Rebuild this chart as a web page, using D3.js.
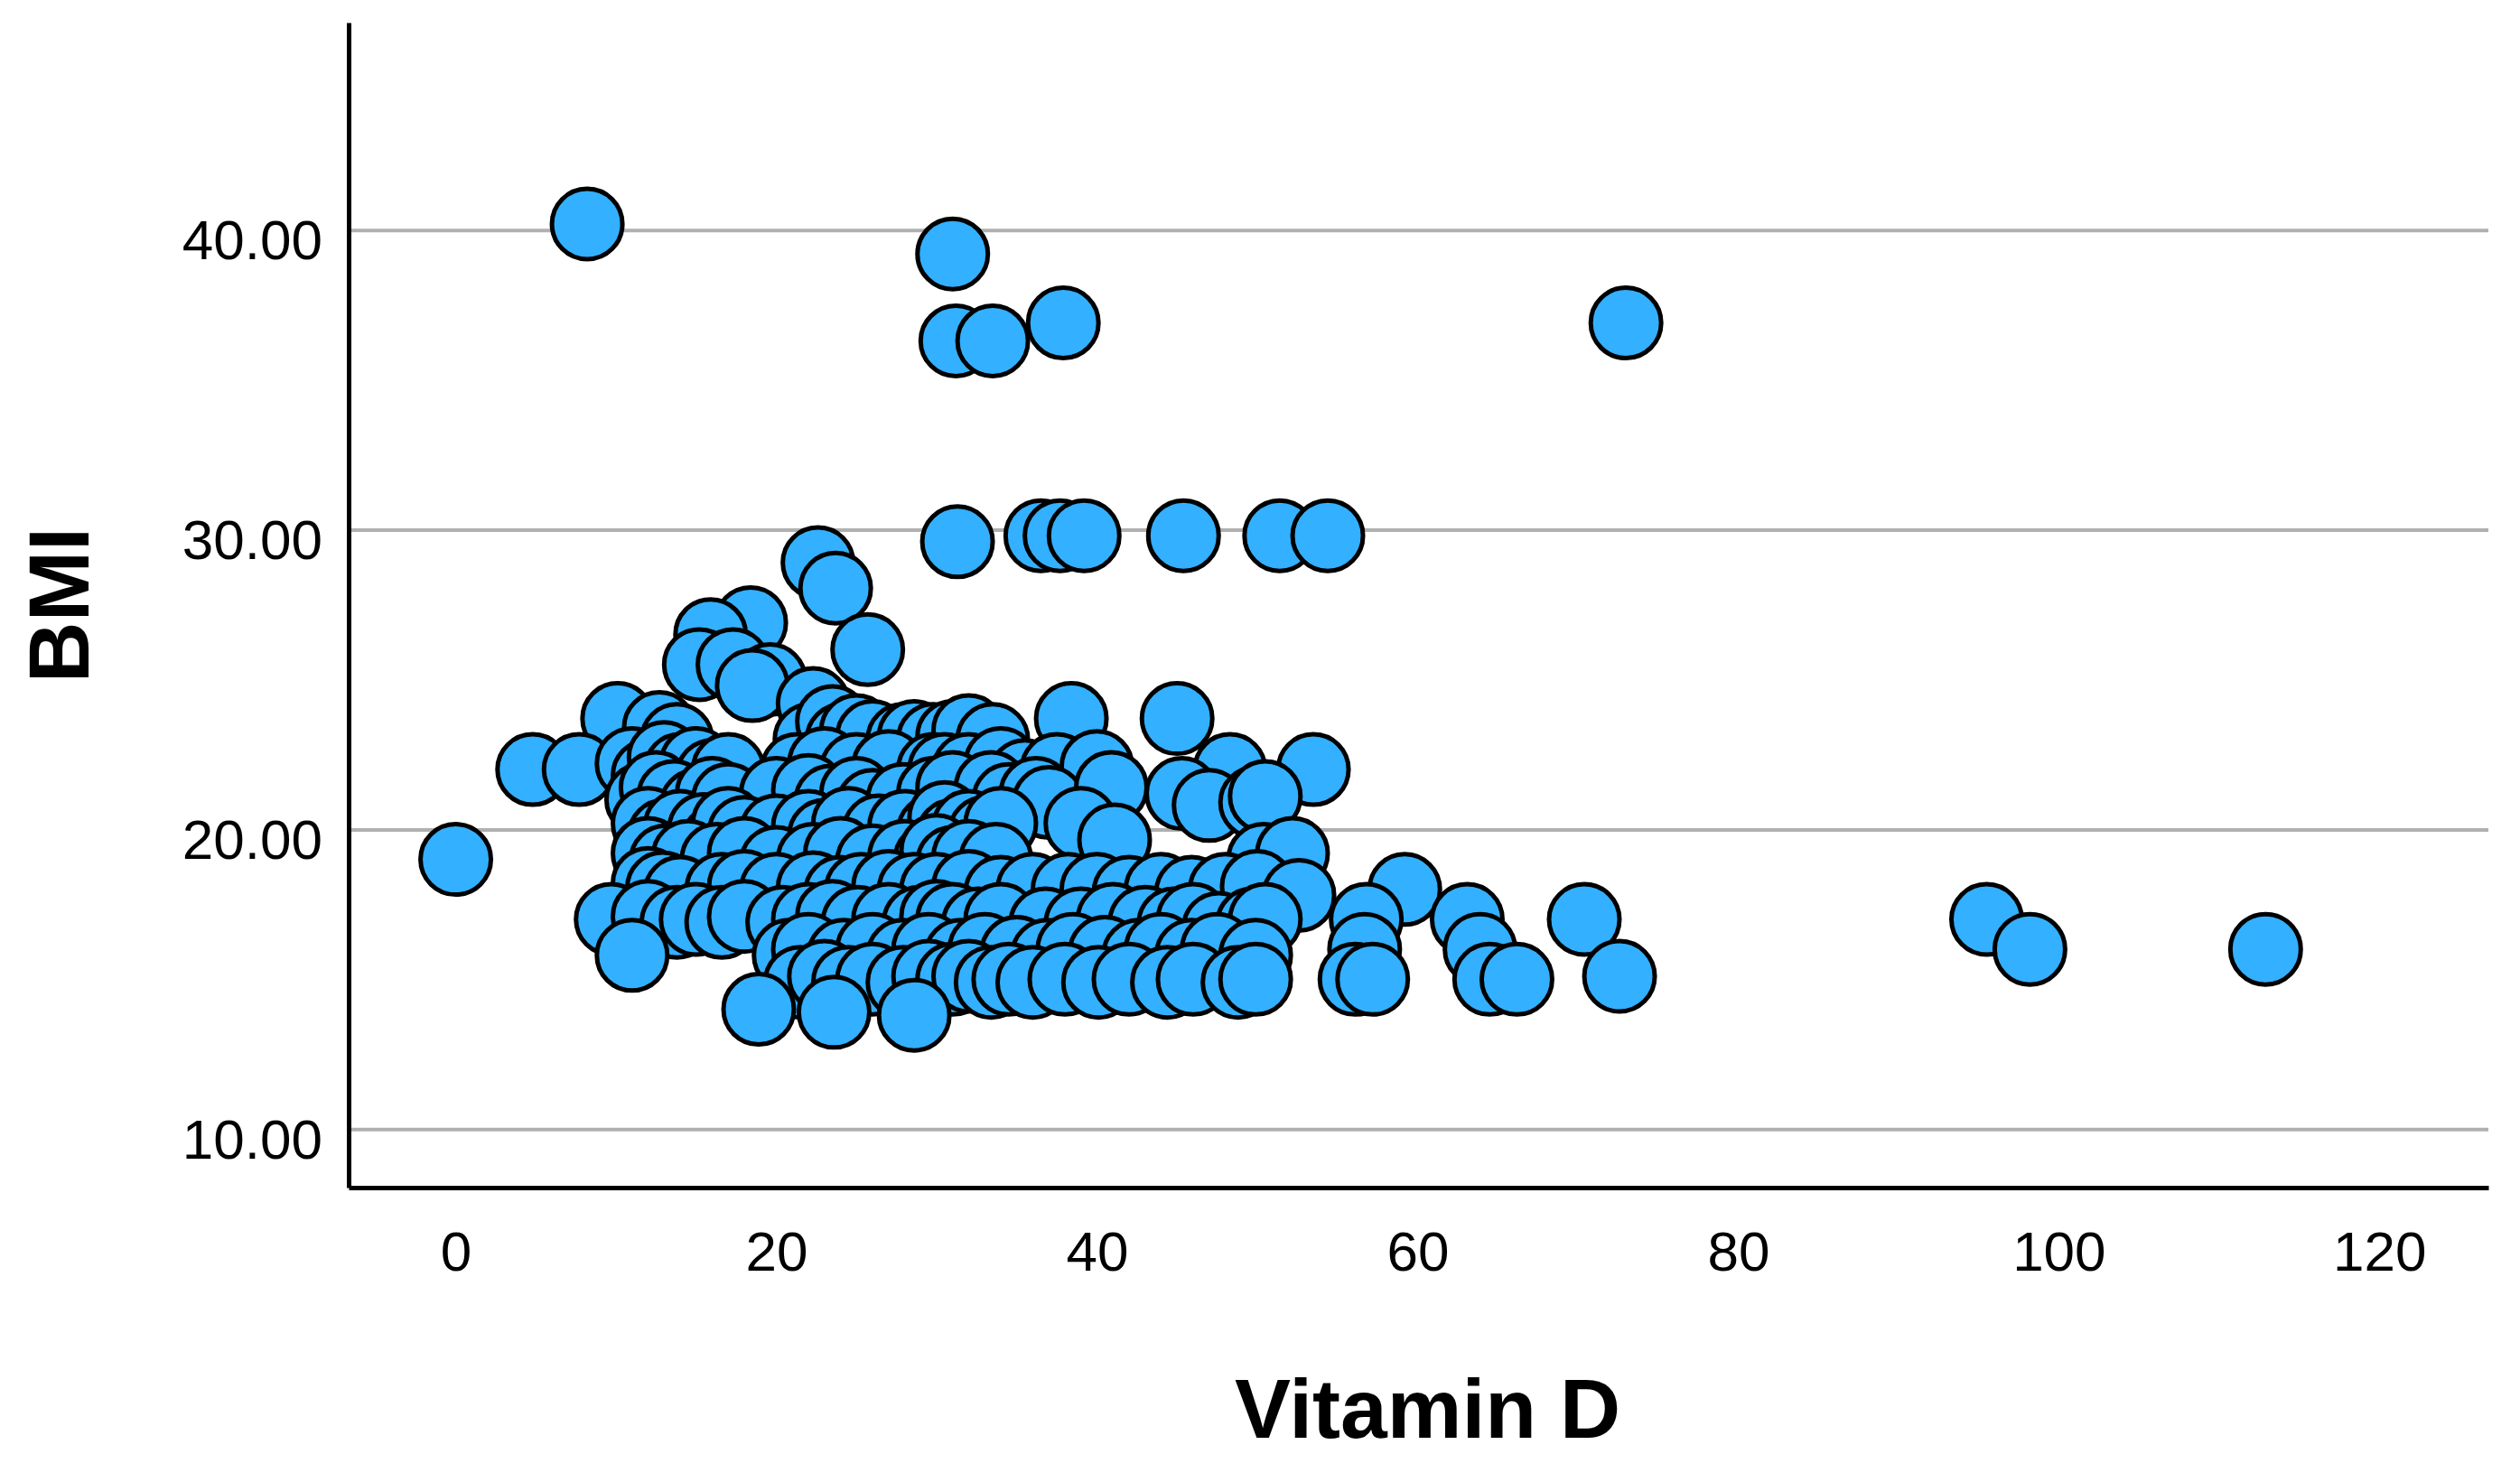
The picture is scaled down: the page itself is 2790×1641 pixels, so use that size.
<!DOCTYPE html>
<html>
<head>
<meta charset="utf-8">
<script src="https://cdn.jsdelivr.net/npm/d3@7"></script>
<style>
  body { margin: 0; background: #fff; }
  text { font-family: Arial, "Liberation Sans", sans-serif; }
</style>
</head>
<body>
<div id="chart"></div>
<script>
// values, one row of the scatter per line (roughly by BMI band)
const vitaminD = [
    8.2, 31, 31.2, 33.5, 37.9, 73,
    31.3, 36.5, 37.7, 39.2, 45.4, 51.4, 54.4,
    22.6, 23.7, 25.7, 18.4, 15.9, 15.2, 17.3, 19.6, 18.5, 22.3,
    10.1, 12.7, 13.8, 22.1, 23.5, 24.1, 25, 26, 27.9, 28.6, 29.8, 31, 32, 33.5, 38.4, 45,
    4.8, 7.7, 11, 12, 13, 14, 15, 16, 17, 21.3, 23, 25, 27, 29.8, 30.5, 32, 34, 35.5, 37.5, 40, 48.3, 53.5,
    11.6, 12.5, 13.6, 15, 16, 17, 20, 22, 23.4, 25, 26, 27.9, 29.8, 31, 33.4, 34.5, 36.2, 37, 40.9, 45.3, 47, 49.9, 50.5,
    0, 12, 13, 14, 15.5, 16.3, 17, 18, 20, 22, 23, 24.5, 26.4, 28, 29.8, 30.5, 31, 32, 33, 34, 39, 41.1,
    12, 13.1, 14.5, 16.3, 18, 20, 22.3, 24, 26, 28, 29.6, 30, 31, 32, 33.7, 50.4, 52.2,
    12, 12.9, 14, 16.6, 18, 20, 22.3, 24, 25.3, 27, 28.6, 30, 32, 34, 36, 38.2, 40, 42, 44, 45.9, 48, 50, 52.6, 59.2,
    9.7, 12, 13.8, 15, 16.6, 18, 20.4, 22, 23.5, 25.1, 27, 28.9, 30, 31, 32.6, 34, 36.8, 39, 41, 43, 44.8, 46, 47.6, 49.7, 50.5,
    56.8, 63.1, 70.4, 95.5,
    11, 20.8, 22, 24.2, 26, 27.9, 29.5, 31.5, 33, 35, 36.9, 38.5, 40.5, 42.6, 44, 45.9, 47.5, 49.9,
    56.7, 63.9, 98.2, 112.9,
    21.5, 23, 24.5, 26, 27.9, 29.5, 31, 32, 33.4, 34.5, 36, 38, 40.1, 42, 44.4, 46, 48.8, 49.9,
    56.1, 57.2, 64.5, 66.2, 72.6,
    18.9, 23.6, 28.6
];

const bmi = [
    40.2, 39.2, 36.3, 36.3, 36.9, 36.9,
    29.6, 29.8, 29.8, 29.8, 29.8, 29.8, 29.8,
    28.9, 28.05, 26.0, 26.9, 26.5, 25.5, 25.5, 25.0, 24.8, 24.2,
    23.7, 23.4, 23.0, 23.0, 23.6, 23.0, 23.3, 23.1, 23.0, 23.1, 23.0, 23.1, 23.3, 23.0, 23.7, 23.7,
    22, 22, 22.2, 21.8, 22.4, 22, 22.2, 21.8, 22, 22, 22.2, 22, 22.1, 22, 22, 22, 22.2, 21.8, 22, 22.1, 22, 22,
    21.0, 21.4, 21.1, 20.8, 21.2, 21.0, 21.2, 21.3, 20.95, 21.2, 20.8, 21.0, 21.2, 21.4, 21.4, 21.0, 21.2, 20.9, 21.4, 21.2, 20.8, 20.9, 21.1,
    19.0, 20.2, 19.8, 20.1, 20, 19.6, 20.2, 19.9, 19.95, 20.1, 19.8, 20.2, 19.95, 20.1, 19.95, 20.4, 19.8, 20.1, 19.9, 20.2, 20.2, 19.65,
    19.2, 18.95, 19.1, 19, 19.2, 18.9, 19, 19.2, 18.95, 19.1, 19, 19.3, 18.9, 19.1, 19, 19.0, 19.2,
    18.2, 18.05, 17.9, 18, 18.1, 18, 18.05, 17.9, 18, 18.1, 18, 18, 18.1, 17.9, 18, 18.0, 18, 17.9, 18, 17.9, 18, 18.1, 17.8, 18.0,
    17, 17.1, 16.9, 17, 16.9, 17.1, 16.9, 17, 17.1, 16.9, 17, 16.9, 17.1, 17, 16.85, 17, 16.85, 16.85, 17, 16.9, 16.85, 17, 16.7, 16.85, 17,
    17.0, 17.0, 17.0, 17.0,
    15.8, 15.8, 16, 15.8, 16, 15.8, 16, 15.8, 16, 15.9, 15.8, 16, 15.9, 15.8, 16, 15.8, 16, 15.8,
    16.0, 16.0, 16.0, 16.0,
    14.9, 15.1, 14.9, 15, 14.9, 15.1, 15, 15.1, 14.9, 15, 14.9, 15, 14.9, 15, 14.9, 15, 14.9, 15,
    15.0, 15.0, 15.0, 15.0, 15.1,
    14.0, 13.9, 13.8
];

const xTicks = [0, 20, 40, 60, 80, 100, 120];
const yTicks = [10, 20, 30, 40];

const points = vitaminD.map((v, i) => ({ v: v, b: bmi[i] }));

const totalWidth = 2790;
const totalHeight = 1641;
const margin = { top: 25, right: 35, bottom: 326, left: 386 };
const width = totalWidth - margin.left - margin.right;
const height = totalHeight - margin.top - margin.bottom;

const svg = d3.select('#chart')
    .append('svg')
    .attr('width', totalWidth)
    .attr('height', totalHeight)
    .append('g')
    .attr('transform', `translate(${margin.left},${margin.top})`);

const x = d3.scaleLinear()
    .domain([-6.68, 126.8])
    .range([0, width]);

const y = d3.scaleLinear()
    .domain([8.05, 46.92])
    .range([height, 0]);

// horizontal gridlines
const grid = svg.append('g')
    .call(d3.axisLeft(y).tickValues(yTicks).tickSize(-width).tickFormat(''));
grid.select('.domain').remove();
grid.selectAll('line')
    .attr('stroke', '#b0b0b0')
    .attr('stroke-width', 4);

svg.selectAll('.dot')
    .data(points)
    .enter()
    .append('circle')
    .attr('class', 'dot')
    .attr('cx', d => x(d.v))
    .attr('cy', d => y(d.b))
    .attr('r', 39)
    .attr('fill', '#33b0ff')
    .attr('stroke', '#000')
    .attr('stroke-width', 5);

const xAxis = svg.append('g')
    .attr('transform', `translate(0,${height})`)
    .call(d3.axisBottom(x).tickValues(xTicks).tickSize(0).tickSizeOuter(0).tickPadding(48));
xAxis.select('.domain').attr('stroke', '#000').attr('stroke-width', 5);
xAxis.selectAll('text')
    .style('font-size', '62px')
    .style('font-family', 'Arial, "Liberation Sans", sans-serif')
    .style('fill', '#000');

const yAxis = svg.append('g')
    .call(d3.axisLeft(y).tickValues(yTicks).tickFormat(d3.format('.2f')).tickSize(0).tickSizeOuter(0).tickPadding(29));
yAxis.select('.domain').attr('stroke', '#000').attr('stroke-width', 5);
yAxis.selectAll('text')
    .attr('dy', '0.52em')
    .style('font-size', '62px')
    .style('font-family', 'Arial, "Liberation Sans", sans-serif')
    .style('fill', '#000');

svg.append('text')
    .attr('x', width / 2 + 10)
    .attr('y', height + 277)
    .attr('text-anchor', 'middle')
    .style('font-size', '93px')
    .style('font-weight', 'bold')
    .text('Vitamin D');

svg.append('text')
    .attr('transform', `translate(${98 - margin.left},${height / 2}) rotate(-90)`)
    .attr('text-anchor', 'middle')
    .style('font-size', '94px')
    .style('font-weight', 'bold')
    .text('BMI');
</script>
</body>
</html>
